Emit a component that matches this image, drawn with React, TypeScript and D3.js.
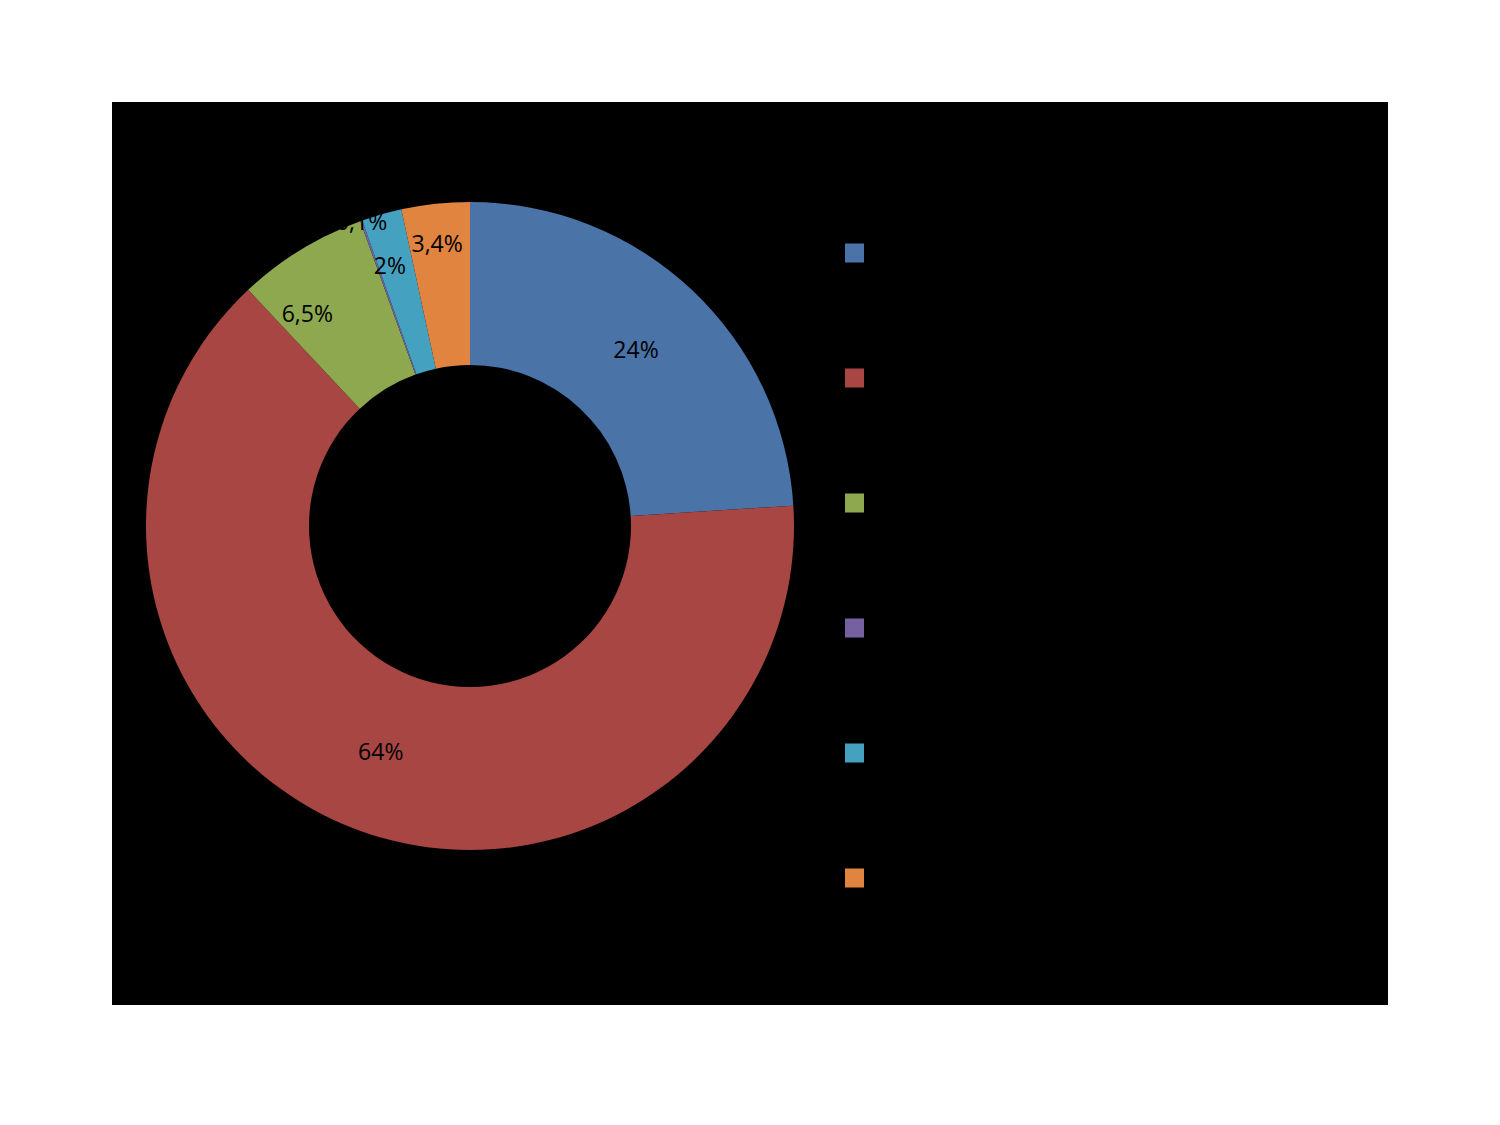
import React from 'react';
import * as d3 from 'd3';

// Slice shares in percent, clockwise from 12 o'clock
const shares = [24, 64, 6.5, 0.1, 2, 3.4];
const labels = ['24%', '64%', '6,5%', '0,1%', '2%', '3,4%'];
const colors = ['#4a73a8', '#a84644', '#8ea84f', '#7560a0', '#44a2c0', '#e0843f'];

// Label nudges for the small slices that were moved off the centroid
const labelNudge: [number, number][] = [[0, 0], [0, 0], [-36, -6], [-27, -77], [-14, -28], [-7, -42]];

const W = 1500;
const H = 1125;

export default function App() {
  const cx = 470;
  const cy = 526;
  const outer = 324;
  const inner = 161;

  const pie = d3.pie<number>().value(d => d).sort(null);
  const arcs = pie(shares);
  const arc = d3.arc<d3.PieArcDatum<number>>().innerRadius(inner).outerRadius(outer);
  const labelArc = d3.arc<d3.PieArcDatum<number>>().innerRadius((inner + outer) / 2).outerRadius((inner + outer) / 2);

  // legend rows
  const legendY = d3.scaleLinear().domain([0, shares.length - 1]).range([253, 878]);

  return (
    <svg width={W} height={H} style={{ position: 'absolute', left: 0, top: 0, background: '#fff' }}>
      <rect x={112} y={102} width={1276} height={903} fill="#000" />
      <g transform={`translate(${cx},${cy})`}>
        {arcs.map((a, i) => (
          <path key={i} d={arc(a) || ''} fill={colors[i]} />
        ))}
        {arcs.map((a, i) => {
          const [x, y] = labelArc.centroid(a);
          return (
            <text
              key={i}
              x={x + labelNudge[i][0]}
              y={y + labelNudge[i][1]}
              textAnchor="middle"
              dominantBaseline="central"
              fontFamily="'Open Sans', sans-serif"
              fontSize={23}
              fill="#000"
            >
              {labels[i]}
            </text>
          );
        })}
      </g>
      <g>
        {colors.map((c, i) => (
          <rect key={i} x={845} y={legendY(i) - 9.5} width={19} height={19} fill={c} />
        ))}
      </g>
    </svg>
  );
}
